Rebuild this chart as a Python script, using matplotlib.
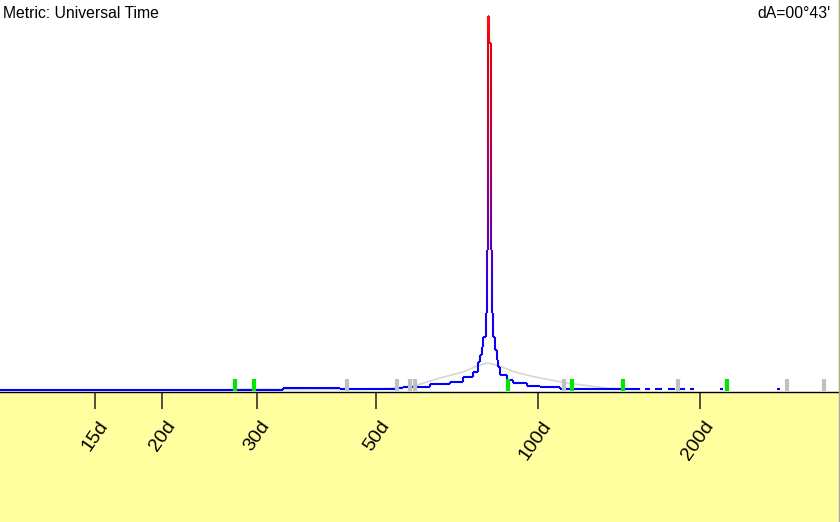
import numpy as np
import matplotlib
matplotlib.use("Agg")
import matplotlib.pyplot as plt
from matplotlib.collections import LineCollection
from matplotlib.colors import LinearSegmentedColormap
from matplotlib.lines import Line2D
from matplotlib.ticker import NullLocator
from matplotlib.transforms import ScaledTranslation

# spectrum: step edges in days and strength per bin (peak = 100)
bin_edges = [10.0, 33.6, 42.9, 54.7, 56.1, 63.0, 68.6, 72.5, 75.7, 77.4, 78.0,
             78.7, 79.1, 80.0, 80.3, 80.6, 81.2, 81.7, 82.0, 82.6, 83.2, 83.8,
             84.3, 85.0, 87.6, 89.9, 95.4, 100.9, 109.9, 154.7]
bin_strength = [0, 0.3, 0.2, 0.5, 0.75, 1.4, 2.1, 3.3, 4.8, 7.4, 9.2, 11.4,
                14.1, 20.5, 37.3, 100, 92.8, 37.3, 20.5, 14.1, 10.6, 7.9, 6.0,
                3.9, 2.5, 1.7, 0.9, 0.6, 0.1]

# little leftovers of the spectrum past 150d
frag_start = [158.1, 165.0, 174.4, 183.6, 191.7, 217.9, 278.1]
frag_end = [161.5, 170.0, 179.8, 187.6, 195.0, 220.7, 281.7]

# light grey reference curve
ref_days = [26.8, 36.1, 48.1, 54.7, 59.6, 65.7, 72.5, 77.0, 80.4, 83.9, 89.9,
            97.9, 106.6, 116.2, 124.9, 136.1, 154.7]
ref_strength = [0, 0, 0.05, 0.4, 1.2, 3.08, 4.69, 6.29, 7.1, 6.56, 4.82,
                3.48, 2.41, 1.47, 0.94, 0.27, 0]

# markers along the axis
green_days = [27.3, 29.7, 87.8, 115.7, 144.1, 224.3]
gray_days = [44.2, 54.7, 57.8, 59.1, 111.9, 182.3, 290.0, 340.2]

tick_days = [15, 20, 30, 50, 100, 200]
tick_labels = ["15d", "20d", "30d", "50d", "100d", "200d"]

plt.rcParams['font.family'] = ['Liberation Sans', 'DejaVu Sans']

fig = plt.figure(figsize=(8.4, 5.22), dpi=100)
fig.patch.set_facecolor('#FFFFA0')
ax = fig.add_axes([0, 130.5 / 522, 838 / 840, 391.5 / 522])
ax.set_facecolor('white')
ax.set_xscale('log')
ax.set_xlim(10, 361)
ax.set_ylim(-0.535, 104.28)

# reference curve
ax.plot(ref_days, ref_strength, color='#d6d6d6', lw=1.2, zorder=1)

# step line, coloured from blue (low) to red (high)
xs, ys = [], []
for i, v in enumerate(bin_strength):
    xs += [bin_edges[i], bin_edges[i + 1]]
    ys += [v, v]
px, py = [], []
for i in range(len(xs) - 1):
    n = 40 if ys[i] != ys[i + 1] else 1
    px += list(np.linspace(xs[i], xs[i + 1], n + 1)[:-1])
    py += list(np.linspace(ys[i], ys[i + 1], n + 1)[:-1])
px.append(xs[-1])
py.append(ys[-1])
pts = np.column_stack([px, py]).reshape(-1, 1, 2)
segs = np.concatenate([pts[:-1], pts[1:]], axis=1)
mid = (np.array(py[:-1]) + np.array(py[1:])) / 2
cmap = LinearSegmentedColormap.from_list(
    'spec', [(0, '#0000ff'), (0.22, '#1a00f0'), (0.42, '#6a00a8'),
             (0.7, '#c0003a'), (0.9, '#e00010'), (1.0, '#ff1010')])
lc = LineCollection(segs, colors=cmap(np.clip(mid / 100, 0, 1)), lw=1.5,
                    capstyle='butt', joinstyle='miter', zorder=2)
ax.add_collection(lc)
ax.hlines([0.1] * len(frag_start), frag_start, frag_end, color='#0000ff',
          lw=1.5, zorder=2)

# markers
ax.vlines(gray_days, -0.5, 2.9, color='#c0c0c0', lw=3, zorder=3)
ax.vlines(green_days, -0.5, 2.9, color='#00e600', lw=3, zorder=3)

ax.set_xticks(tick_days)
ax.set_xticklabels(tick_labels, rotation=55, ha='right', va='top', fontsize=14)
ax.xaxis.set_minor_locator(NullLocator())
ax.tick_params(axis='x', length=12.2, width=1.1, color='#222222', pad=6.5)
shift = ScaledTranslation(17 / 100, 0, fig.dpi_scale_trans)
for lab in ax.get_xticklabels():
    lab.set_transform(lab.get_transform() + shift)
ax.set_yticks([])
for s in ['top', 'left', 'right']:
    ax.spines[s].set_visible(False)
ax.spines['bottom'].set_linewidth(1.0)
ax.spines['bottom'].set_color('black')

fig.text(3 / 840, 1 - 18.5 / 522, "Metric: Universal Time", fontsize=11.3,
         ha='left', va='baseline')
fig.text(831 / 840, 1 - 18.5 / 522, "dA=00°43'", fontsize=11.3,
         ha='right', va='baseline')
fig.add_artist(Line2D([838.5 / 840] * 2, [0, 1], color='#a8a8a8', lw=1))

fig.savefig('out.png', dpi=100, facecolor=fig.get_facecolor())
